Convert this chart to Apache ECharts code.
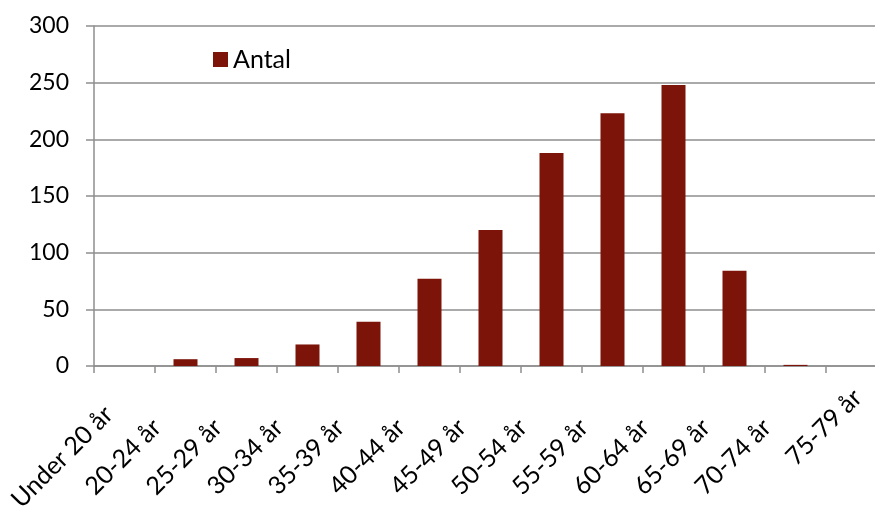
<!DOCTYPE html>
<html>
<head>
<meta charset="utf-8">
<script src="https://cdn.jsdelivr.net/npm/echarts@6/dist/echarts.min.js"></script>
<style>
  html, body { margin: 0; padding: 0; background: #ffffff; }
  #chart { width: 875px; height: 509px; }
</style>
</head>
<body>
<div id="chart"></div>
<script>
// Age groups and head counts per group
const categories = ['Under 20 år', '20-24 år', '25-29 år', '30-34 år', '35-39 år', '40-44 år',
  '45-49 år', '50-54 år', '55-59 år', '60-64 år', '65-69 år', '70-74 år', '75-79 år'];
const antal = [0, 6, 7, 19, 39, 77, 120, 188, 223, 248, 84, 1, 0];
const yTicks = [0, 50, 100, 150, 200, 250, 300];

const FONT = 'Lato, "Liberation Sans", sans-serif';
const GRID_GRAY = '#8e8e8e';

const chart = echarts.init(document.getElementById('chart'), null, { renderer: 'canvas' });

chart.setOption({
  animation: false,
  backgroundColor: '#ffffff',
  textStyle: { fontFamily: FONT },
  legend: {
    data: ['Antal'],
    left: 213,
    top: 47,
    padding: 0,
    itemWidth: 15,
    itemHeight: 15,
    itemGap: 6,
    icon: 'rect',
    textStyle: { fontFamily: FONT, fontSize: 25, color: '#000000' }
  },
  // the plot runs slightly past the right edge of the canvas
  grid: { left: 94, width: 793, top: 26, height: 340, containLabel: false, outerBoundsMode: 'none' },
  xAxis: {
    type: 'category',
    data: categories,
    boundaryGap: true,
    axisLine: { lineStyle: { color: GRID_GRAY, width: 1.5 } },
    axisTick: { show: true, alignWithLabel: false, length: 7, lineStyle: { color: GRID_GRAY, width: 1.5 } },
    axisLabel: {
      interval: 0,
      rotate: 45,
      align: 'center',
      verticalAlign: 'middle',
      margin: 91,
      padding: [0, 88, 88, 0],
      fontFamily: FONT,
      fontSize: 25,
      color: '#000000',
      formatter: function (value, idx) {
        return idx === categories.length - 1 ? '{end|' + value + '}' : value;
      },
      rich: {
        end: { fontFamily: FONT, fontSize: 25, color: '#000000', padding: [0, 0, 0, 84] }
      }
    }
  },
  yAxis: {
    type: 'value',
    min: 0,
    max: 300,
    interval: 50,
    axisLine: { show: true, lineStyle: { color: GRID_GRAY, width: 1.5 } },
    axisTick: { show: true, length: 8, lineStyle: { color: GRID_GRAY, width: 1.5 } },
    splitLine: { show: true, lineStyle: { color: GRID_GRAY, width: 1.5 } },
    axisLabel: {
      margin: 25,
      fontFamily: FONT,
      fontSize: 23,
      color: '#000000',
      formatter: function (v) { return yTicks.indexOf(v) >= 0 ? String(v) : ''; }
    }
  },
  series: [{
    name: 'Antal',
    type: 'bar',
    data: antal,
    barWidth: 24,
    itemStyle: { color: '#7c1409' }
  }]
});
</script>
</body>
</html>
